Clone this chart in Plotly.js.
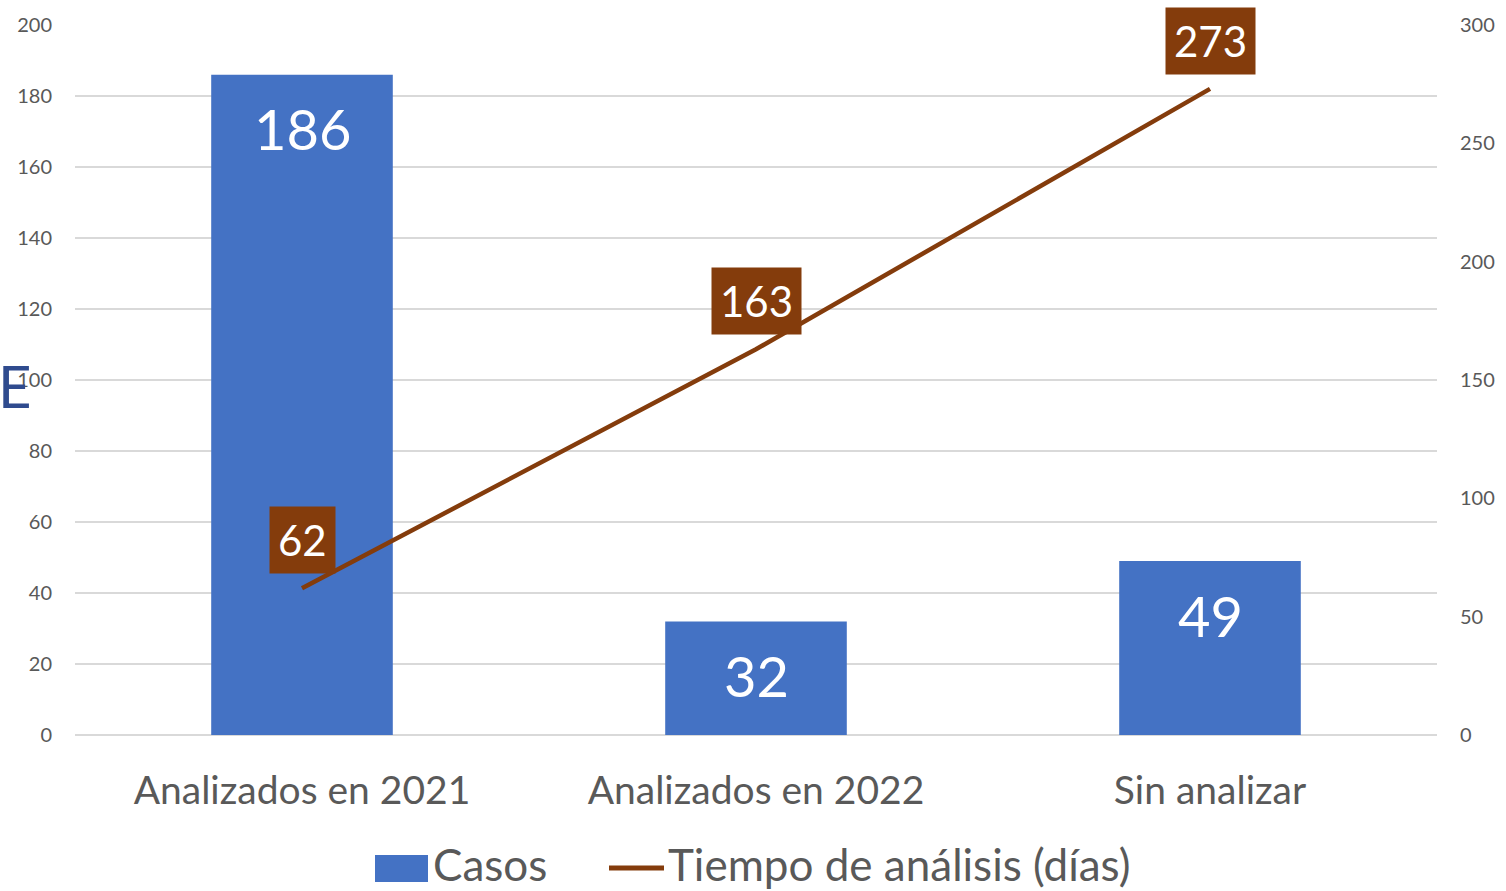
<!DOCTYPE html>
<html>
<head>
<meta charset="utf-8">
<script src="https://cdn.plot.ly/plotly-3.0.1.min.js"></script>
<style>html,body{margin:0;padding:0;background:#fff}#chart{width:1506px;height:891px}</style>
</head>
<body>
<div id="chart"></div>
<script>
const categories = ["Analizados en 2021", "Analizados en 2022", "Sin analizar"];
const casos = [186, 32, 49];
const tiempo = [62, 163, 273];
const leftTicks = [0, 20, 40, 60, 80, 100, 120, 140, 160, 180, 200];
const rightTicks = [0, 50, 100, 150, 200, 250, 300];
const seriesNames = ["Casos", "Tiempo de análisis (días)"];

const FONT = "Lato, 'Open Sans', sans-serif";
const BLUE = "#4472C4";
const BROWN = "#843C0C";
const GREY = "#595959";

// plot area in pixels
const PL = 75, PR = 1437, PT = 25, PB = 735;
const PW = PR - PL, PH = PB - PT;
const px = v => (v - PL) / PW;
const py = v => (PB - v) / PH;

const traces = [
  {
    type: "bar", name: seriesNames[0], x: categories, y: casos,
    marker: {color: BLUE}, width: 0.4, hoverinfo: "none"
  },
  {
    type: "scatter", mode: "lines", name: seriesNames[1],
    x: categories, y: tiempo, yaxis: "y2",
    line: {color: BROWN, width: 4.5}, hoverinfo: "none"
  }
];

const annotations = [];
categories.forEach((c, i) => {
  annotations.push({
    x: c, y: casos[i], xref: "x", yref: "y", text: String(casos[i]),
    showarrow: false, yshift: -54, font: {family: FONT, size: 56, color: "#FFFFFF"}
  });
  annotations.push({
    x: c, y: tiempo[i], xref: "x", yref: "y2", text: String(tiempo[i]),
    showarrow: false, yshift: 48, bgcolor: BROWN, borderpad: 8,
    font: {family: FONT, size: 42, color: "#FFFFFF"}
  });
});
annotations.push({
  xref: "paper", yref: "paper", x: px(0), y: py(385), xanchor: "left", yanchor: "middle",
  xshift: -4, text: "E", showarrow: false, font: {family: FONT, size: 58, color: "#2F4B8E"}
});
// legend texts
annotations.push({
  xref: "paper", yref: "paper", x: px(431), y: py(864), xanchor: "left", yanchor: "middle",
  text: seriesNames[0], showarrow: false, font: {family: FONT, size: 44, color: GREY}
});
annotations.push({
  xref: "paper", yref: "paper", x: px(666), y: py(864), xanchor: "left", yanchor: "middle",
  text: seriesNames[1], showarrow: false, font: {family: FONT, size: 44, color: GREY}
});

const shapes = [
  {type: "rect", xref: "paper", yref: "paper", x0: px(375), x1: px(428), y0: py(882), y1: py(855),
   fillcolor: BLUE, line: {width: 0}},
  {type: "line", xref: "paper", yref: "paper", x0: px(609), x1: px(664), y0: py(868), y1: py(868),
   line: {color: BROWN, width: 5}}
];

const layout = {
  width: 1506, height: 891,
  margin: {l: PL, r: 1506 - PR, t: PT, b: 891 - PB, autoexpand: false},
  paper_bgcolor: "#FFFFFF", plot_bgcolor: "#FFFFFF",
  font: {family: FONT, color: GREY},
  showlegend: false,
  xaxis: {
    showgrid: false, zeroline: false, showline: false, ticks: "",
    tickfont: {family: FONT, size: 39, color: GREY}, ticklabelstandoff: 29
  },
  yaxis: {
    range: [0, 200], tickvals: leftTicks, showgrid: true, gridcolor: "#D9D9D9", gridwidth: 1.5,
    zeroline: true, zerolinecolor: "#D9D9D9", zerolinewidth: 1.5, showline: false, ticks: "",
    tickfont: {family: FONT, size: 20, color: GREY}, ticklabelstandoff: 22
  },
  yaxis2: {
    range: [0, 300], tickvals: rightTicks, overlaying: "y", side: "right",
    showgrid: false, zeroline: false, showline: false, ticks: "",
    tickfont: {family: FONT, size: 20, color: GREY}, ticklabelstandoff: 22
  },
  annotations: annotations,
  shapes: shapes
};

Plotly.newPlot("chart", traces, layout, {displayModeBar: false, staticPlot: true});
</script>
</body>
</html>
